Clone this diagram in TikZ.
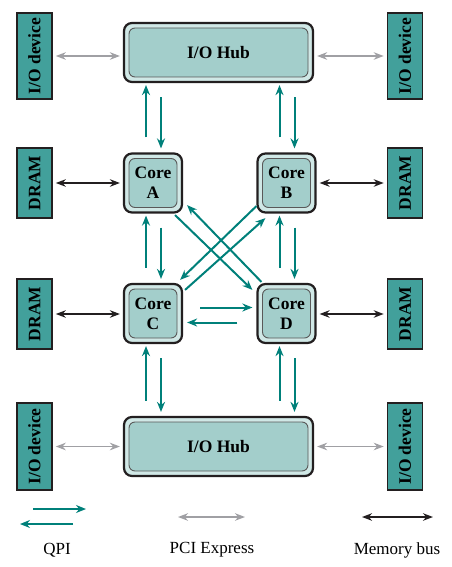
\documentclass[tikz,border=0pt]{standalone}
\usepackage{fontspec}
\usepackage{graphicx}
\setmainfont{Liberation Serif}
\usetikzlibrary{arrows.meta,calc,positioning}
\definecolor{qpiTeal}{RGB}{0,128,122}
\definecolor{devTeal}{RGB}{66,160,155}
\definecolor{hubIn}{RGB}{163,206,203}
\definecolor{hubOut}{RGB}{208,232,230}
\definecolor{pciGray}{RGB}{160,160,164}
\definecolor{busBlack}{RGB}{35,31,32}
\begin{document}
\begin{tikzpicture}[x=1pt,y=-1pt,
  font=\fontsize{17}{20}\selectfont,
  outer/.style={draw=busBlack,line width=2.2pt,fill=hubOut,rounded corners=8pt,inner sep=0pt},
  inner/.style={draw=black!65,line width=0.9pt,fill=hubIn,rounded corners=6pt,inner sep=0pt,
    align=center,font=\fontsize{17.5}{20}\selectfont\bfseries},
  dev/.style={draw=busBlack,line width=1.6pt,fill=devTeal,minimum width=35pt,inner sep=0pt,
    font=\fontsize{17.5}{20}\selectfont\bfseries},
  qpi/.style={draw=qpiTeal,line width=2pt,-{Stealth[length=10pt,width=8pt]}},
  pci/.style={draw=pciGray,line width=1.8pt,{Stealth[length=10pt,width=7.5pt]}-{Stealth[length=10pt,width=7.5pt]}},
  bus/.style={draw=busBlack,line width=1.8pt,{Stealth[length=10pt,width=7.5pt]}-{Stealth[length=10pt,width=7.5pt]}}]
\useasboundingbox (0,0) rectangle (451,567);

% side boxes
\node[dev,minimum height=86pt] (ioTL) at (34.5,56) {\rotatebox{90}{I/O device}};
\node[dev,minimum height=86pt] (ioTR) at (405,56) {\rotatebox{90}{I/O device}};
\node[dev,minimum height=70pt] (dramA) at (34.5,183) {\rotatebox{90}{DRAM}};
\node[dev,minimum height=70pt] (dramB) at (405,183) {\rotatebox{90}{DRAM}};
\node[dev,minimum height=70pt] (dramC) at (34.5,314) {\rotatebox{90}{DRAM}};
\node[dev,minimum height=70pt] (dramD) at (405,314) {\rotatebox{90}{DRAM}};
\node[dev,minimum height=87pt] (ioBL) at (34.5,446.5) {\rotatebox{90}{I/O device}};
\node[dev,minimum height=87pt] (ioBR) at (405,446.5) {\rotatebox{90}{I/O device}};

% hubs
\node[outer,minimum width=189pt,minimum height=59pt] (hubT) at (218.5,52.5) {};
\node[inner,minimum width=179pt,minimum height=49pt] (hubTin) at (hubT) {I/O Hub};
\node[outer,minimum width=189pt,minimum height=59pt] (hubB) at (218.5,446.5) {};
\node[inner,minimum width=179pt,minimum height=49pt] (hubBin) at (hubB) {I/O Hub};

% cores
\node[outer,minimum width=58pt,minimum height=59pt] (A) at (153,183) {};
\node[inner,minimum width=48pt,minimum height=49pt] (Ain) at (A) {Core\\A};
\node[outer,minimum width=58pt,minimum height=59pt] (B) at (286.5,183) {};
\node[inner,minimum width=48pt,minimum height=49pt] (Bin) at (B) {Core\\B};
\node[outer,minimum width=58pt,minimum height=59pt] (C) at (153,313.5) {};
\node[inner,minimum width=48pt,minimum height=49pt] (Cin) at (C) {Core\\C};
\node[outer,minimum width=58pt,minimum height=59pt] (D) at (286.5,313.5) {};
\node[inner,minimum width=48pt,minimum height=49pt] (Din) at (D) {Core\\D};

% QPI links
\foreach \u/\l/\c in {hubT/A/A,hubT/B/B,A/C/A,B/D/B,C/hubB/C,D/hubB/D}{
  \draw[qpi] ($(\c.center |- \l.north)+(-7,-15)$) -- ($(\c.center |- \u.south)+(-7,2)$);
  \draw[qpi] ($(\c.center |- \u.south)+(8,14)$) -- ($(\c.center |- \l.north)+(8,-4)$);
}
\draw[qpi] ($(A.south east)+(-8,1.5)$) -- ($(D.north west)+(-4,7)$);
\draw[qpi] ($(D.north west)+(5,-1)$) -- ($(A.south east)+(4,-8.5)$);
\draw[qpi] ($(B.south west)+(0,-7.5)$) -- ($(C.north east)+(-3,-3)$);
\draw[qpi] ($(C.north east)+(2,7)$) -- ($(B.south west)+(9,4.5)$);
\draw[qpi] ($(C.east)+(17,-6)$) -- ($(D.west |- C.east)+(-4,-6)$);
\draw[qpi] ($(D.west |- C.east)+(-19,9)$) -- ($(C.east)+(4,9)$);

% PCI Express and memory buses
\draw[pci,shorten <=3pt,shorten >=3pt] (ioTL.east) -- (ioTL.east -| hubT.west);
\draw[pci,shorten <=3pt,shorten >=3pt] (ioTR.west) -- (ioTR.west -| hubT.east);
\draw[pci,shorten <=3pt,shorten >=3pt] (ioBL.east) -- (ioBL.east -| hubB.west);
\draw[pci,shorten <=3pt,shorten >=3pt] (ioBR.west) -- (ioBR.west -| hubB.east);
\draw[bus,shorten <=3pt,shorten >=3pt] (dramA.east) -- (dramA.east -| A.west);
\draw[bus,shorten <=3pt,shorten >=3pt] (dramB.west) -- (dramB.west -| B.east);
\draw[bus,shorten <=3pt,shorten >=3pt] (dramC.east) -- (dramC.east -| C.west);
\draw[bus,shorten <=3pt,shorten >=3pt] (dramD.west) -- (dramD.west -| D.east);

% legend
\node (qpiT) at (57,550) {QPI};
\node (pciT) at (212,550) {PCI Express};
\node (busT) at (397,550) {Memory bus};
\coordinate (q1) at (33,509);
\coordinate (q2) at (86,509);
\coordinate (q3) at (73,524);
\coordinate (q4) at (20,524);
\coordinate (p1) at (178,517);
\coordinate (p2) at (245,517);
\coordinate (m1) at (362,517);
\coordinate (m2) at (433,517);
\draw[qpi] (q1) -- (q2);
\draw[qpi] (q3) -- (q4);
\draw[pci] (p1) -- (p2);
\draw[bus] (m1) -- (m2);
\end{tikzpicture}
\end{document}
